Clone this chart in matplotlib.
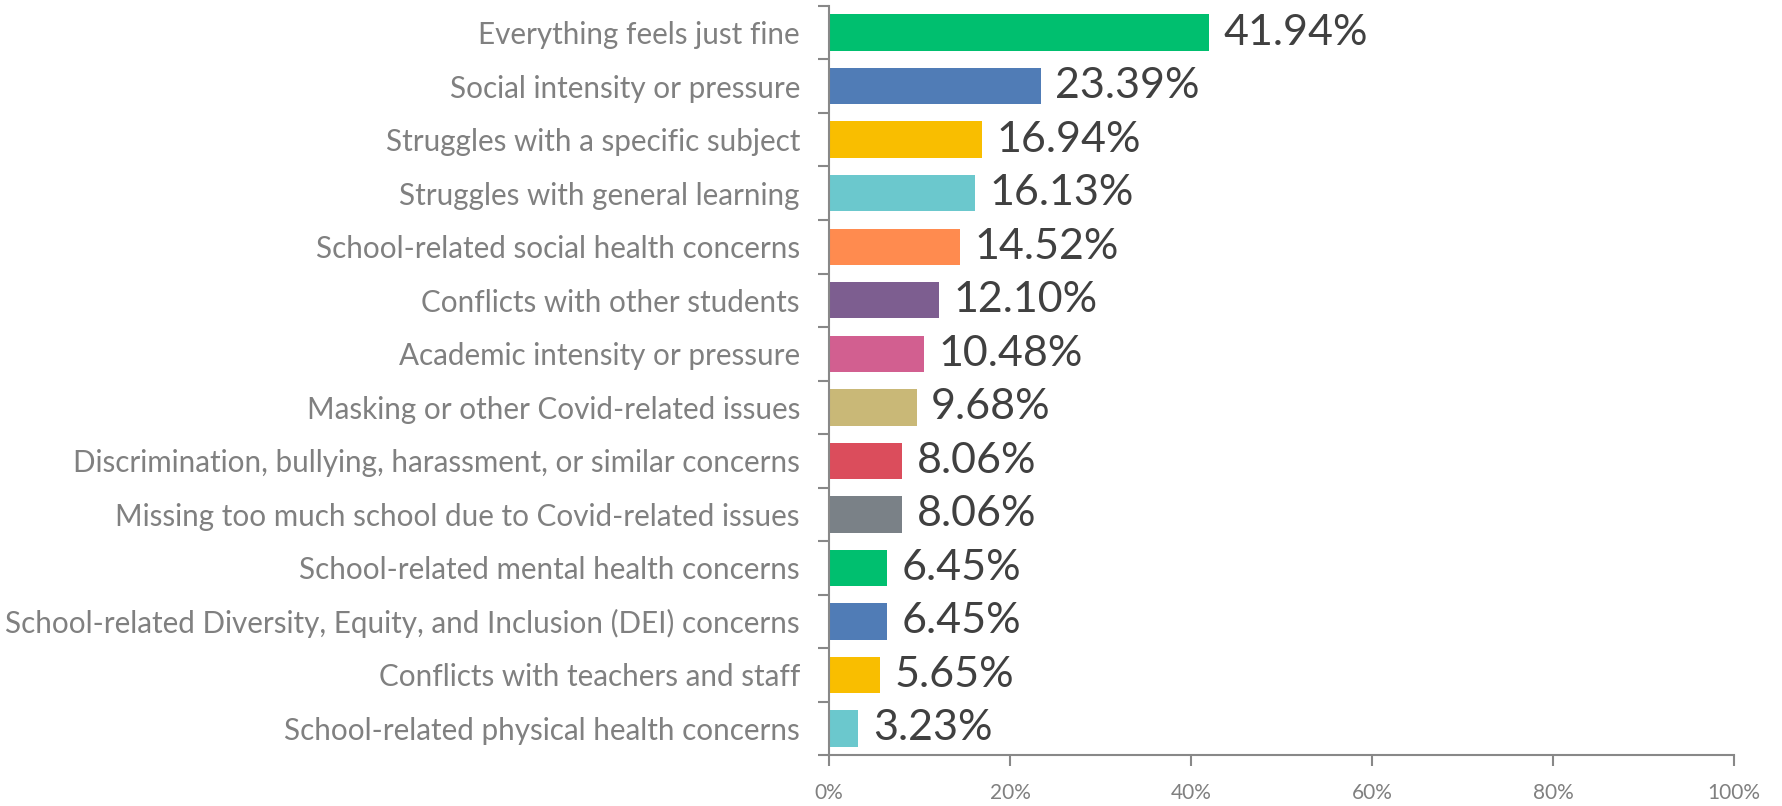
import matplotlib.pyplot as plt
from matplotlib.ticker import FixedLocator, PercentFormatter

categories = [
    'Everything feels just fine',
    'Social intensity or pressure',
    'Struggles with a specific subject',
    'Struggles with general learning',
    'School-related social health concerns',
    'Conflicts with other students',
    'Academic intensity or pressure',
    'Masking or other Covid-related issues',
    'Discrimination, bullying, harassment, or similar concerns',
    'Missing too much school due to Covid-related issues',
    'School-related mental health concerns',
    'School-related Diversity, Equity, and Inclusion (DEI) concerns',
    'Conflicts with teachers and staff',
    'School-related physical health concerns',
]
values = [41.94, 23.39, 16.94, 16.13, 14.52, 12.10, 10.48, 9.68, 8.06, 8.06, 6.45, 6.45, 5.65, 3.23]
colours = ['#00bf6f', '#507cb6', '#f9be00', '#6bc8cd', '#ff8b4f', '#7d5e90', '#d25f90',
           '#c9b877', '#db4d5c', '#7a8187', '#00bf6f', '#507cb6', '#f9be00', '#6bc8cd']
x_ticks = [0, 20, 40, 60, 80, 100]

plt.rcParams['font.family'] = ['Lato', 'DejaVu Sans']

fig = plt.figure(figsize=(17.83, 8.06), dpi=100)
ax = fig.add_axes([0.465, 0.063, 0.5075, 0.9297])

pos = list(range(len(categories)))
ax.barh(pos, values, height=0.68, color=colours)
for p, v in zip(pos, values):
    ax.text(v + 1.6, p, f'{v:.2f}%', va='center', ha='left', fontsize=31, color='#404040')

ax.set_ylim(len(categories) - 0.5, -0.5)
ax.set_xlim(0, 100)
ax.set_yticks(pos)
ax.set_yticklabels(categories, fontsize=21.3, color='#808080')
ax.yaxis.set_minor_locator(FixedLocator([i - 0.5 for i in range(len(categories) + 1)]))
ax.tick_params(axis='y', which='major', length=0, pad=21)
ax.tick_params(axis='y', which='minor', length=8, color='#888888', width=1.5)
ax.set_xticks(x_ticks)
ax.xaxis.set_major_formatter(PercentFormatter(decimals=0))
ax.tick_params(axis='x', length=8, color='#888888', width=1.5, labelsize=15,
               labelcolor='#808080', pad=12)

for s in ['top', 'right']:
    ax.spines[s].set_visible(False)
for s in ['left', 'bottom']:
    ax.spines[s].set_color('#888888')
    ax.spines[s].set_linewidth(1.5)

fig.savefig('out.png', dpi=100)
